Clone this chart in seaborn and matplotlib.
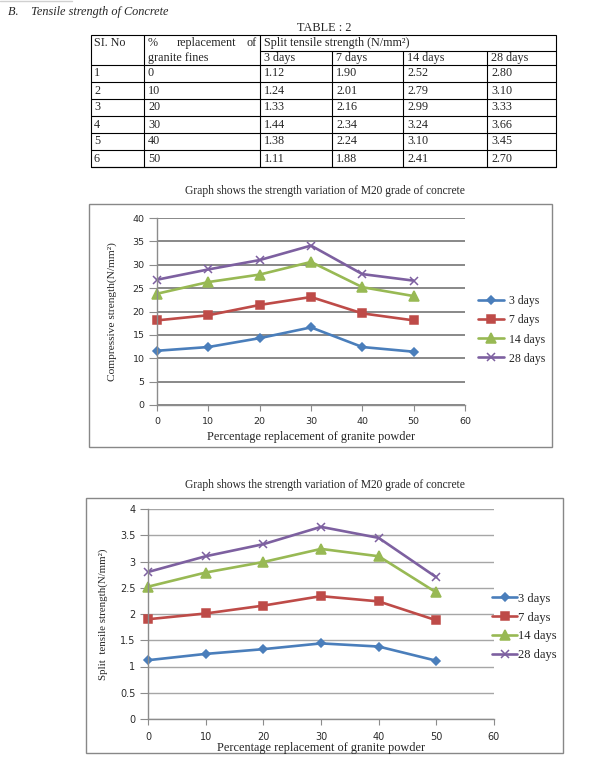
import numpy as np
import pandas as pd
import seaborn as sns
import matplotlib.pyplot as plt
from matplotlib.patches import Rectangle
from matplotlib.ticker import FuncFormatter

sns.set_style("white")
plt.rcParams['font.family'] = ['Liberation Serif', 'DejaVu Serif']

pct = [0, 10, 20, 30, 40, 50]
days = ["3 days", "7 days", "14 days", "28 days"]

# compressive strength
comp_3 = [11.6, 12.4, 14.3, 16.6, 12.4, 11.4]
comp_7 = [18.1, 19.2, 21.4, 23.1, 19.6, 18.1]
comp_14 = [23.8, 26.3, 27.9, 30.6, 25.2, 23.3]
comp_28 = [26.8, 29.0, 31.0, 34.1, 28.0, 26.6]

# split tensile strength (TABLE : 2)
split_3 = [1.12, 1.24, 1.33, 1.44, 1.38, 1.11]
split_7 = [1.90, 2.01, 2.16, 2.34, 2.24, 1.88]
split_14 = [2.52, 2.79, 2.99, 3.24, 3.10, 2.41]
split_28 = [2.80, 3.10, 3.33, 3.66, 3.45, 2.70]

sl_no = ["1", "2", "3", "4", "5", "6"]
pct_labels = ["0", "10", "20", "30", "40", "50"]
split_txt = [
    ["1.12", "1.90", "2.52", "2.80"],
    ["1.24", "2.01", "2.79", "3.10"],
    ["1.33", "2.16", "2.99", "3.33"],
    ["1.44", "2.34", "3.24", "3.66"],
    ["1.38", "2.24", "3.10", "3.45"],
    ["1.11", "1.88", "2.41", "2.70"],
]

colors = {"3 days": "#4a7ebb", "7 days": "#be4b48", "14 days": "#98b954", "28 days": "#7d60a0"}
mk = {"3 days": "D", "7 days": "s", "14 days": "^", "28 days": "x"}
ms = {"3 days": 4, "7 days": 6, "14 days": 6.5, "28 days": 6}

comp = pd.DataFrame({"pct": pct * 4, "val": comp_3 + comp_7 + comp_14 + comp_28,
                     "age": np.repeat(days, 6)})
split = pd.DataFrame({"pct": pct * 4, "val": split_3 + split_7 + split_14 + split_28,
                      "age": np.repeat(days, 6)})

W, H = 616, 763
fig = plt.figure(figsize=(W / 100, H / 100), dpi=100)

# page layer in pixel coordinates
bg = fig.add_axes([0, 0, 1, 1], zorder=0)
bg.set_xlim(0, W)
bg.set_ylim(H, 0)
bg.axis("off")

bg.plot([0, 72], [1, 1], color="#d0d0d0", lw=1)
bg.text(8, 12, "B.    Tensile strength of Concrete", fontsize=8.8, style="italic", va="center")
bg.text(324, 28, "TABLE : 2", fontsize=8.8, ha="center", va="center")

# table
cols = [91, 144, 260, 332, 403, 487, 556]
top, sub, head, rh = 35, 51, 65, 17
bottom = head + 6 * rh
lk = dict(color="black", lw=0.8)
bg.add_patch(Rectangle((cols[0], top), cols[-1] - cols[0], bottom - top, fill=False, ec="black", lw=0.8))
bg.plot([cols[2], cols[-1]], [sub, sub], **lk)
for i in range(7):
    y = head + i * rh
    bg.plot([cols[0], cols[-1]], [y, y], **lk)
for x in cols[1:3]:
    bg.plot([x, x], [top, bottom], **lk)
for x in cols[3:6]:
    bg.plot([x, x], [sub, bottom], **lk)

fs = 8.7
bg.text(cols[0] + 3, 43, "SI. No", fontsize=fs, va="center")
bg.text(cols[1] + 4, 43, "%", fontsize=fs, va="center")
bg.text((cols[1] + cols[2]) / 2 + 4, 43, "replacement", fontsize=fs, va="center", ha="center")
bg.text(cols[2] - 3, 43, "of", fontsize=fs, va="center", ha="right")
bg.text(cols[1] + 4, 58, "granite fines", fontsize=fs, va="center")
bg.text(cols[2] + 4, 43, "Split tensile strength (N/mm²)", fontsize=fs, va="center")
for j, d in enumerate(days):
    bg.text(cols[2 + j] + 4, 58, d, fontsize=fs, va="center")
for i in range(6):
    y = head + i * rh + rh / 2
    bg.text(cols[0] + 3, y, sl_no[i], fontsize=fs, va="center")
    bg.text(cols[1] + 4, y, pct_labels[i], fontsize=fs, va="center")
    for j in range(4):
        bg.text(cols[2 + j] + 4, y, split_txt[i][j], fontsize=fs, va="center")

# chart frames and titles
bg.add_patch(Rectangle((89, 204), 463, 243, fill=False, ec="#888888", lw=1))
bg.add_patch(Rectangle((86, 498), 477, 255, fill=False, ec="#888888", lw=1))
title = "Graph shows the strength variation of M20 grade of concrete"
bg.text(325, 191, title, fontsize=8.3, ha="center", va="center")
bg.text(325, 485, title, fontsize=8.3, ha="center", va="center")


def px_axes(x0, x1, y0, y1):
    return fig.add_axes([x0 / W, 1 - y1 / H, (x1 - x0) / W, (y1 - y0) / H], zorder=2)


def draw(ax, df, ymax, ystep, grid_col, grid_lw, tick_fs):
    for d in days:
        s = df[df["age"] == d]
        sns.lineplot(x=s["pct"].values, y=s["val"].values, ax=ax, color=colors[d],
                     marker=mk[d], markersize=ms[d], markeredgecolor=colors[d],
                     markeredgewidth=1.1, lw=1.9, label=d, clip_on=False)
    ax.set_facecolor("none")
    ax.set_xlim(0, 60)
    ax.set_ylim(0, ymax)
    ax.set_xticks(range(0, 61, 10))
    ax.set_yticks(np.arange(0, ymax + ystep / 2, ystep))
    ax.yaxis.set_major_formatter(FuncFormatter(lambda v, p: f"{v:g}"))
    ax.grid(axis="y", color=grid_col, lw=grid_lw)
    ax.set_axisbelow(True)
    for s in ["top", "right"]:
        ax.spines[s].set_visible(False)
    for s in ["left", "bottom"]:
        ax.spines[s].set_color("#8c8c8c")
        ax.spines[s].set_linewidth(1)
    ax.tick_params(axis="both", which="both", direction="out", color="#8c8c8c",
                   labelsize=tick_fs, labelcolor="#2b2b2b", left=True, bottom=True)
    ax.tick_params(axis="y", length=6, pad=3)
    ax.tick_params(axis="x", length=4, pad=5)
    for t in ax.get_xticklabels() + ax.get_yticklabels():
        t.set_family("DejaVu Sans")


# compressive strength chart
ax1 = px_axes(157, 465, 218, 405)
draw(ax1, comp, 40, 5, "#7f7f7f", 1.3, 6.8)
ax1.set_xlabel("Percentage replacement of granite powder", fontsize=8.8, labelpad=3)
ax1.set_ylabel("Compressive strength(N/mm²)", fontsize=8.2, labelpad=11)
ax1.legend(loc="center left", bbox_to_anchor=(478 / W, 1 - 330 / H), bbox_transform=fig.transFigure,
           frameon=False, fontsize=8.5, handlelength=2.2, handletextpad=0.4,
           labelspacing=0.6, borderpad=0, borderaxespad=0)

# split tensile strength chart
ax2 = px_axes(148, 494, 509, 719)
draw(ax2, split, 4, 0.5, "#a6a6a6", 1.0, 7)
ax2.set_xlabel("Percentage replacement of granite powder", fontsize=8.8, labelpad=0)
ax2.set_ylabel("Split  tensile strength(N/mm²)", fontsize=7.8, labelpad=9)
ax2.legend(loc="center left", bbox_to_anchor=(492 / W, 1 - 627 / H), bbox_transform=fig.transFigure,
           frameon=False, fontsize=9, handlelength=2.0, handletextpad=0.1,
           labelspacing=0.55, borderpad=0, borderaxespad=0)

fig.savefig("out.png", dpi=100)
